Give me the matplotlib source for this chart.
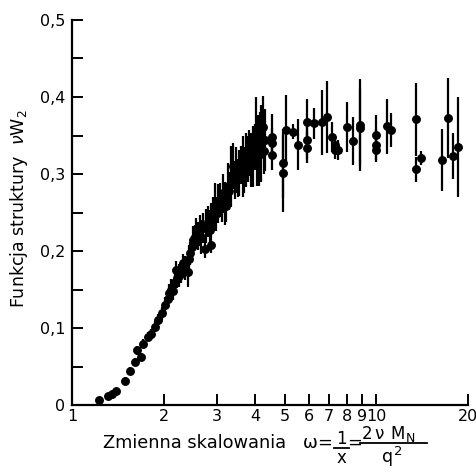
import matplotlib
matplotlib.use("Agg")
import matplotlib.pyplot as plt
from matplotlib.lines import Line2D
from matplotlib.ticker import FixedLocator, FixedFormatter, NullLocator

# low omega region (small errors)
omega_low = [1.23, 1.31, 1.35, 1.39, 1.49, 1.55, 1.61, 1.64, 1.69, 1.71, 1.78,
             1.82, 1.87, 1.92, 1.97]
w2_low = [0.007, 0.012, 0.015, 0.019, 0.032, 0.045, 0.056, 0.071, 0.063, 0.080,
          0.089, 0.093, 0.102, 0.110, 0.119]
err_low = [0.0, 0.0, 0.003, 0.003, 0.004, 0.004, 0.005, 0.006, 0.005, 0.006,
           0.006, 0.006, 0.007, 0.008, 0.008]

# dense rising region
omega_mid = [2.02, 2.06, 2.09, 2.12, 2.15, 2.18, 2.20, 2.22, 2.25, 2.28, 2.31,
             2.35, 2.40, 2.42, 2.44, 2.47, 2.50, 2.53, 2.56, 2.60, 2.63, 2.66,
             2.70, 2.73, 2.76, 2.80, 2.84, 2.87, 2.87, 2.90, 2.94, 2.98, 3.02,
             3.06, 3.10, 3.13, 3.17, 3.21, 3.25, 3.29, 3.33, 3.38, 3.42, 3.46,
             3.50, 3.55, 3.60, 3.64, 3.68, 3.73, 3.78, 3.83, 3.88, 3.93, 3.98,
             4.03, 4.06, 4.08, 4.12, 4.16, 4.19, 4.24, 4.27, 4.30]
w2_mid = [0.130, 0.138, 0.145, 0.150, 0.148, 0.160, 0.175, 0.165, 0.168, 0.172,
          0.184, 0.178, 0.173, 0.190, 0.197, 0.205, 0.214, 0.218, 0.223, 0.220,
          0.227, 0.218, 0.230, 0.203, 0.232, 0.238, 0.228, 0.240, 0.208, 0.250,
          0.258, 0.248, 0.262, 0.266, 0.258, 0.275, 0.262, 0.258, 0.284, 0.278,
          0.297, 0.310, 0.292, 0.305, 0.295, 0.301, 0.312, 0.310, 0.305, 0.318,
          0.320, 0.327, 0.318, 0.323, 0.335, 0.355, 0.320, 0.331, 0.325, 0.345,
          0.340, 0.361, 0.330, 0.344]
err_mid = [0.010, 0.012, 0.012, 0.014, 0.012, 0.015, 0.012, 0.013, 0.015, 0.014,
           0.012, 0.015, 0.020, 0.018, 0.015, 0.015, 0.018, 0.016, 0.020, 0.018,
           0.020, 0.022, 0.020, 0.012, 0.022, 0.020, 0.025, 0.022, 0.010, 0.020,
           0.030, 0.022, 0.025, 0.022, 0.020, 0.025, 0.028, 0.020, 0.030, 0.025,
           0.040, 0.030, 0.025, 0.030, 0.025, 0.030, 0.025, 0.040, 0.030, 0.035,
           0.030, 0.030, 0.035, 0.040, 0.030, 0.045, 0.035, 0.045, 0.040, 0.035,
           0.050, 0.040, 0.030, 0.040]

# plateau region
omega_high = [4.55, 4.55, 4.55, 4.94, 4.94, 5.05, 5.33, 5.53, 5.92, 5.92, 5.92,
              6.26, 6.63, 6.89, 7.15, 7.33, 7.33, 7.50, 8.00, 8.40, 8.85, 8.85,
              10.0, 10.0, 10.0, 10.8, 11.2, 13.5, 13.5, 14.0, 16.4, 17.2, 17.8,
              18.5]
w2_high = [0.348, 0.340, 0.325, 0.314, 0.301, 0.357, 0.355, 0.338, 0.368, 0.344,
           0.334, 0.366, 0.367, 0.374, 0.348, 0.338, 0.331, 0.331, 0.361, 0.343,
           0.364, 0.360, 0.351, 0.338, 0.331, 0.362, 0.357, 0.371, 0.306, 0.321,
           0.318, 0.373, 0.323, 0.335]
err_high = [0.030, 0.020, 0.020, 0.045, 0.050, 0.045, 0.010, 0.033, 0.030, 0.025,
            0.020, 0.020, 0.042, 0.047, 0.020, 0.012, 0.012, 0.013, 0.033, 0.031,
            0.060, 0.050, 0.026, 0.020, 0.015, 0.036, 0.022, 0.047, 0.016, 0.009,
            0.040, 0.052, 0.030, 0.065]

xticks = [1, 2, 3, 4, 5, 6, 7, 8, 9, 10, 20]
xticklabels = ["1", "2", "3", "4", "5", "6", "7", "8", "9", "10", "20"]
yticks = [0, 0.1, 0.2, 0.3, 0.4, 0.5]
yticklabels = ["0", "0,1", "0,2", "0,3", "0,4", "0,5"]
yminor = [0.05, 0.15, 0.25, 0.35, 0.45]

plt.rcParams['font.family'] = ['DejaVu Sans']
plt.rcParams['mathtext.fontset'] = 'dejavusans'

W, H = 477, 475
fig = plt.figure(figsize=(W / 100, H / 100), dpi=100)
ax = fig.add_axes([0.151, 0.147, 0.830, 0.811])

for xs, ys, es in [(omega_low, w2_low, err_low),
                   (omega_mid, w2_mid, err_mid),
                   (omega_high, w2_high, err_high)]:
    ax.errorbar(xs, ys, yerr=es, fmt='o', color='black', ms=5.4,
                elinewidth=1.6, capsize=0)

ax.set_xscale('log')
ax.set_xlim(1, 20)
ax.set_ylim(0, 0.5)

ax.xaxis.set_major_locator(FixedLocator(xticks))
ax.xaxis.set_major_formatter(FixedFormatter(xticklabels))
ax.xaxis.set_minor_locator(NullLocator())
ax.yaxis.set_major_locator(FixedLocator(yticks))
ax.yaxis.set_major_formatter(FixedFormatter(yticklabels))
ax.yaxis.set_minor_locator(FixedLocator(yminor))

ax.spines['top'].set_visible(False)
ax.spines['right'].set_visible(False)
ax.spines['left'].set_linewidth(1.6)
ax.spines['bottom'].set_linewidth(1.6)

ax.tick_params(axis='both', which='both', direction='in', width=1.4,
               length=8, labelsize=11.5, pad=5)
ax.tick_params(axis='x', pad=3)

ax.set_ylabel(r'Funkcja struktury  $\nu \mathrm{W}_\mathrm{2}$', fontsize=12.5)
ax.yaxis.set_label_coords(-0.105, 0.51)


# x label assembled by hand so the fractions are stacked like in the book
def px(x, y):
    return x / W, 1 - y / H


def label(x, y, s, ha='left', size=12.8):
    fig.text(*px(x, y), s, ha=ha, va='baseline', fontsize=size)


def bar(x0, x1, y):
    (a, b), (c, _) = px(x0, y), px(x1, y)
    fig.add_artist(Line2D([a, c], [b, b], color='black', lw=1.3))


label(103, 448, 'Zmienna skalowania')
label(303, 448, 'ω')
label(325, 448, '=', ha='center')
label(341, 444, '1', ha='center', size=12)
bar(334, 349, 448)
label(341, 463, 'x', ha='center', size=12)
label(355, 448, '=', ha='center')
label(362, 439, '2', size=12)
label(374, 439, 'ν', size=12)
label(390, 439, 'M', size=12)
label(406, 442, 'N', size=9)
bar(360, 427, 443)
label(393, 462, 'q', ha='right', size=12.5)
label(394, 455, '2', size=9.5)

fig.savefig('out.png', dpi=100)
